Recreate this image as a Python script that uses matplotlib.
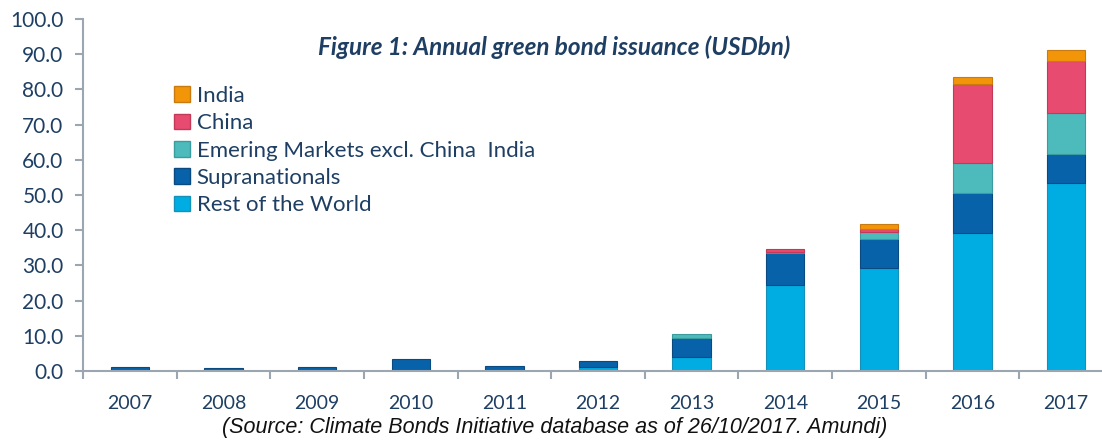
import numpy as np
import matplotlib.pyplot as plt
from matplotlib.patches import Patch

# data (USD bn)
years = ['2007', '2008', '2009', '2010', '2011', '2012',
         '2013', '2014', '2015', '2016', '2017']
rest_world = [0.0, 0.0, 0.0, 0.0, 0.0, 1.1, 4.0, 24.4, 29.3, 39.1, 53.5]
supranationals = [1.1, 0.8, 1.1, 3.3, 1.4, 1.7, 5.4, 9.0, 8.2, 11.4, 8.1]
emerging = [0.0, 0.0, 0.0, 0.0, 0.0, 0.0, 1.0, 0.5, 2.1, 8.5, 11.8]
china = [0.0, 0.0, 0.0, 0.0, 0.0, 0.0, 0.0, 0.9, 0.6, 22.6, 14.8]
india = [0.0, 0.0, 0.0, 0.0, 0.0, 0.0, 0.0, 0.0, 1.5, 1.8, 2.9]

series = [('Rest of the World', rest_world, '#00ADE2', '#1590B8'),
          ('Supranationals', supranationals, '#0862AA', '#0A4A80'),
          ('Emering Markets excl. China  India', emerging, '#4DBABC', '#3A9C9E'),
          ('China', china, '#E84B70', '#C23A5A'),
          ('India', india, '#F39508', '#C97A10')]

navy = '#1E3F63'
plt.rcParams['font.family'] = ['Lato', 'DejaVu Sans']

fig = plt.figure(figsize=(11.02, 4.41), dpi=100)
ax = fig.add_axes([83 / 1102, 1 - 371 / 441, 1030 / 1102, 352 / 441])

x = np.arange(len(years))
bottom = np.zeros(len(years))
handles = []
for name, vals, col, edge in series:
    vals = np.array(vals)
    # skip empty segments so no stray edges are drawn
    keep = vals > 0
    ax.bar(x[keep], vals[keep], width=0.41, bottom=bottom[keep], color=col,
           edgecolor=edge, linewidth=0.8)
    bottom += vals
    handles.append(Patch(facecolor=col, edgecolor=edge, label=name))

ax.set_xlim(-0.5, len(years) - 0.5)
ax.set_ylim(0, 100)
ax.set_yticks(np.arange(0, 101, 10))
ax.set_yticklabels(['%.1f' % v for v in np.arange(0, 101, 10)])
ax.set_xticks(x)
ax.set_xticklabels(years)
ax.set_xticks(np.arange(-0.5, len(years), 1.0), minor=True)

for s in ['top', 'right']:
    ax.spines[s].set_visible(False)
for s in ['left', 'bottom']:
    ax.spines[s].set_color('#9CA6B0')
    ax.spines[s].set_linewidth(1.5)

ax.tick_params(axis='y', colors='#9CA6B0', labelcolor=navy, labelsize=15,
               length=6, width=1.5, pad=8)
ax.tick_params(axis='x', which='major', length=0, labelcolor=navy,
               labelsize=14, pad=17)
ax.tick_params(axis='x', which='minor', length=6, width=1.5, colors='#9CA6B0')

leg = ax.legend(handles=handles[::-1], loc='upper left',
                bbox_to_anchor=(0.08, 0.835), frameon=False, fontsize=16,
                handlelength=0.7, handleheight=0.7, handletextpad=0.3,
                labelspacing=0.33, borderaxespad=0)
for t in leg.get_texts():
    t.set_color(navy)

fig.text(0.503, 0.893, 'Figure 1: Annual green bond issuance (USDbn)',
         ha='center', va='center', fontsize=17.5, fontweight='bold',
         fontstyle='italic', color=navy)
fig.text(0.503, 0.006,
         '(Source: Climate Bonds Initiative database as of 26/10/2017. Amundi)',
         ha='center', va='bottom', fontsize=15.5, fontstyle='italic',
         family='Liberation Sans', color='#111111')

fig.savefig('out.png', dpi=100)
